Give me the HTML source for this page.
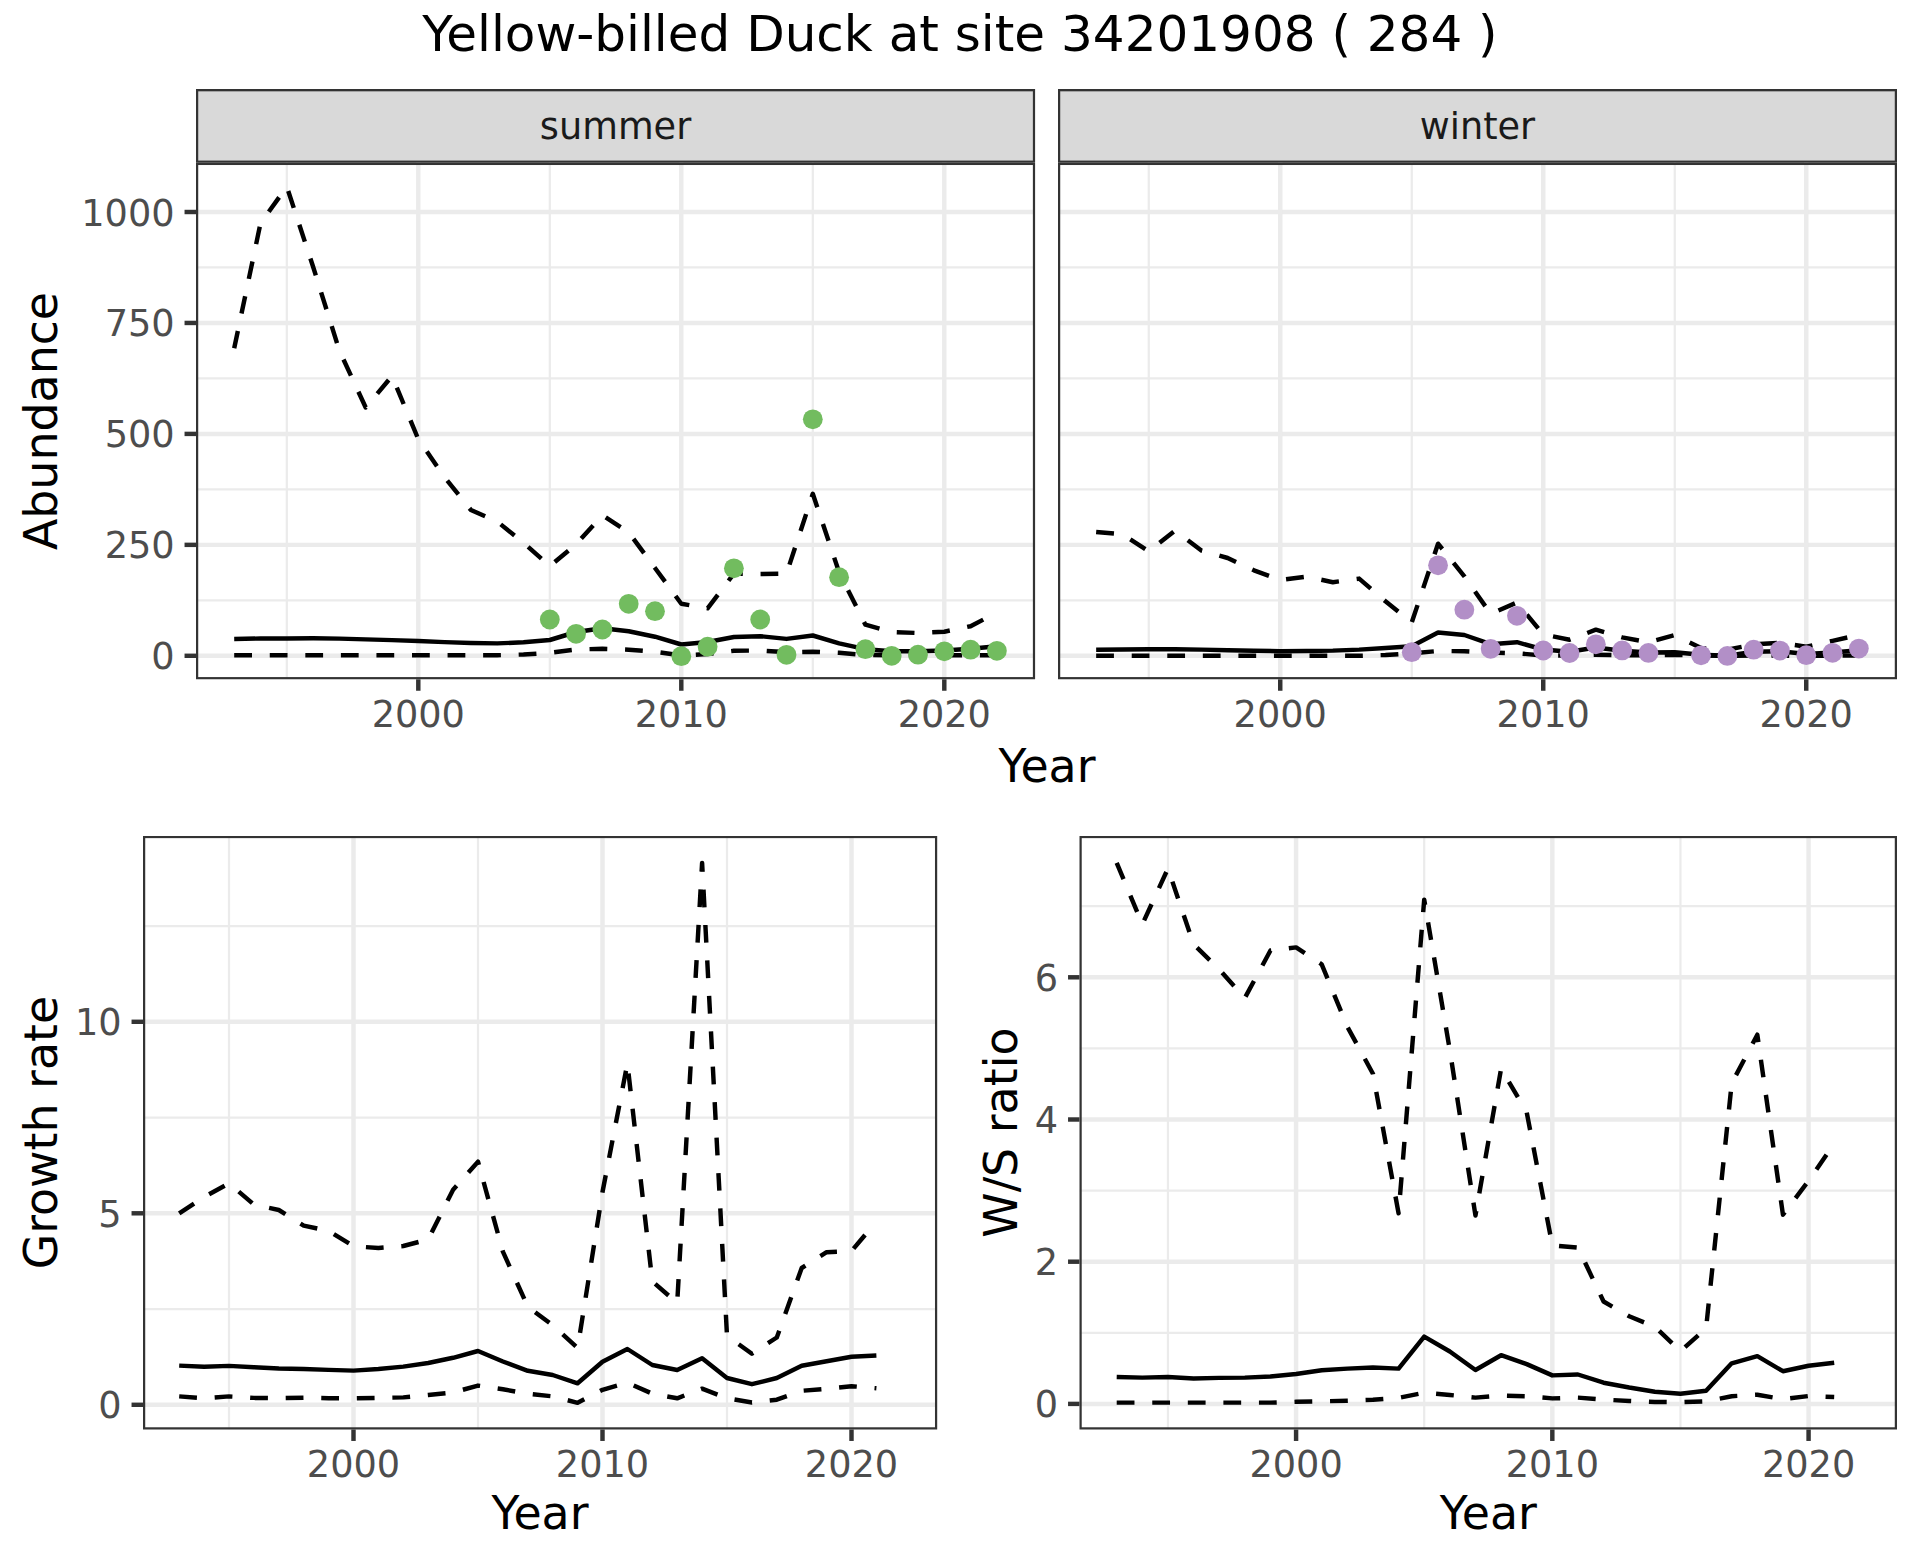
<!DOCTYPE html>
<html lang="en">
<head>
<meta charset="utf-8">
<title>Yellow-billed Duck at site 34201908 ( 284 )</title>
<style>
html,body{margin:0;padding:0;background:#fff;}
body{width:1920px;height:1560px;overflow:hidden;}
svg{display:block;}
</style>
</head>
<body>
<svg width="1920" height="1560" viewBox="0 0 1920 1560" font-family='"DejaVu Sans", "Liberation Sans", sans-serif'>
<rect width="1920" height="1560" fill="#fff"/>
<text x="960" y="50.9" text-anchor="middle" font-size="50" fill="#000">Yellow-billed Duck at site 34201908 ( 284 )</text>
<clipPath id="s1"><rect x="196" y="89.1" width="839.1" height="73.7"/></clipPath>
<rect x="196" y="89.1" width="839.1" height="73.7" fill="#D9D9D9" stroke="#333" stroke-width="4.45" clip-path="url(#s1)"/>
<text x="615.55" y="138.75" text-anchor="middle" font-size="36.67" fill="#1A1A1A">summer</text>
<clipPath id="c1"><rect x="196" y="162.8" width="839.1" height="516.5"/></clipPath>
<g clip-path="url(#c1)">
<rect x="196" y="162.8" width="839.1" height="516.5" fill="#fff"/>
<line x1="196" x2="1035.1" y1="600.32" y2="600.32" stroke="#EBEBEB" stroke-width="2.22"/>
<line x1="196" x2="1035.1" y1="489.38" y2="489.38" stroke="#EBEBEB" stroke-width="2.22"/>
<line x1="196" x2="1035.1" y1="378.42" y2="378.42" stroke="#EBEBEB" stroke-width="2.22"/>
<line x1="196" x2="1035.1" y1="267.47" y2="267.47" stroke="#EBEBEB" stroke-width="2.22"/>
<line x1="286.8" x2="286.8" y1="162.8" y2="679.3" stroke="#EBEBEB" stroke-width="2.22"/>
<line x1="549.8" x2="549.8" y1="162.8" y2="679.3" stroke="#EBEBEB" stroke-width="2.22"/>
<line x1="812.8" x2="812.8" y1="162.8" y2="679.3" stroke="#EBEBEB" stroke-width="2.22"/>
<line x1="196" x2="1035.1" y1="655.8" y2="655.8" stroke="#EBEBEB" stroke-width="4.45"/>
<line x1="196" x2="1035.1" y1="544.85" y2="544.85" stroke="#EBEBEB" stroke-width="4.45"/>
<line x1="196" x2="1035.1" y1="433.9" y2="433.9" stroke="#EBEBEB" stroke-width="4.45"/>
<line x1="196" x2="1035.1" y1="322.95" y2="322.95" stroke="#EBEBEB" stroke-width="4.45"/>
<line x1="196" x2="1035.1" y1="212" y2="212" stroke="#EBEBEB" stroke-width="4.45"/>
<line x1="418.3" x2="418.3" y1="162.8" y2="679.3" stroke="#EBEBEB" stroke-width="4.45"/>
<line x1="681.3" x2="681.3" y1="162.8" y2="679.3" stroke="#EBEBEB" stroke-width="4.45"/>
<line x1="944.3" x2="944.3" y1="162.8" y2="679.3" stroke="#EBEBEB" stroke-width="4.45"/>
<polyline points="234.2,639 260.5,638.5 286.8,638.4 313.1,638.3 339.4,638.6 365.7,639.4 392,640.1 418.3,641 444.6,642.1 470.9,643 497.2,643.4 523.5,642.3 549.8,640 576.1,632 602.4,628.3 628.7,631.3 655,636.7 681.3,644.5 707.6,642 733.9,637 760.2,636.2 786.5,638.9 812.8,635.5 839.1,643.3 865.4,649.2 891.7,651.2 918,651.2 944.3,650.5 970.6,648.7 996.9,646.3" fill="none" stroke="#000" stroke-width="4.45" stroke-linejoin="round" stroke-linecap="butt"/>
<polyline points="234.2,655.2 260.5,655.2 286.8,655.2 313.1,655.2 339.4,655.2 365.7,655.2 392,655.2 418.3,655.2 444.6,655.2 470.9,655.2 497.2,655.2 523.5,654.5 549.8,652.8 576.1,649.5 602.4,648.8 628.7,649.7 655,651.7 681.3,655.5 707.6,654 733.9,650.8 760.2,650.5 786.5,652.2 812.8,651.7 839.1,652.8 865.4,655 891.7,655.3 918,655.3 944.3,655.3 970.6,655.3 996.9,655.3" fill="none" stroke="#000" stroke-width="4.45" stroke-linejoin="round" stroke-linecap="butt" stroke-dasharray="17.78 17.78"/>
<polyline points="234.2,348.3 260.5,223.3 286.8,186.7 313.1,266.7 339.4,350.7 365.7,407.5 392,376 418.3,439.2 444.6,477.3 470.9,510 497.2,521.5 523.5,542.8 549.8,566.2 576.1,544.2 602.4,515.2 628.7,532.3 655,568 681.3,603.7 707.6,608.3 733.9,573.7 760.2,574 786.5,573.7 812.8,493.8 839.1,572.3 865.4,624.7 891.7,632 918,633 944.3,631.7 970.6,626.2 996.9,612.5" fill="none" stroke="#000" stroke-width="4.45" stroke-linejoin="round" stroke-linecap="butt" stroke-dasharray="17.74 17.74"/>
<circle cx="549.8" cy="619.5" r="9.9" fill="#72BC5F"/>
<circle cx="576.1" cy="633.8" r="9.9" fill="#72BC5F"/>
<circle cx="602.4" cy="629.5" r="9.9" fill="#72BC5F"/>
<circle cx="628.7" cy="603.8" r="9.9" fill="#72BC5F"/>
<circle cx="655" cy="611.2" r="9.9" fill="#72BC5F"/>
<circle cx="681.3" cy="656.2" r="9.9" fill="#72BC5F"/>
<circle cx="707.6" cy="646.7" r="9.9" fill="#72BC5F"/>
<circle cx="733.9" cy="568.3" r="9.9" fill="#72BC5F"/>
<circle cx="760.2" cy="619.5" r="9.9" fill="#72BC5F"/>
<circle cx="786.5" cy="654.8" r="9.9" fill="#72BC5F"/>
<circle cx="812.8" cy="419.3" r="9.9" fill="#72BC5F"/>
<circle cx="839.1" cy="577.2" r="9.9" fill="#72BC5F"/>
<circle cx="865.4" cy="649.2" r="9.9" fill="#72BC5F"/>
<circle cx="891.7" cy="655.8" r="9.9" fill="#72BC5F"/>
<circle cx="918" cy="654.7" r="9.9" fill="#72BC5F"/>
<circle cx="944.3" cy="651.3" r="9.9" fill="#72BC5F"/>
<circle cx="970.6" cy="649.7" r="9.9" fill="#72BC5F"/>
<circle cx="996.9" cy="650.8" r="9.9" fill="#72BC5F"/>
<rect x="196" y="162.8" width="839.1" height="516.5" fill="none" stroke="#333" stroke-width="4.45"/>
</g>
<line x1="418.3" x2="418.3" y1="679.3" y2="690.76" stroke="#333" stroke-width="4.45"/>
<text x="418.3" y="726.5" text-anchor="middle" font-size="36.67" fill="#4D4D4D">2000</text>
<line x1="681.3" x2="681.3" y1="679.3" y2="690.76" stroke="#333" stroke-width="4.45"/>
<text x="681.3" y="726.5" text-anchor="middle" font-size="36.67" fill="#4D4D4D">2010</text>
<line x1="944.3" x2="944.3" y1="679.3" y2="690.76" stroke="#333" stroke-width="4.45"/>
<text x="944.3" y="726.5" text-anchor="middle" font-size="36.67" fill="#4D4D4D">2020</text>
<line x1="184.54" x2="196" y1="655.8" y2="655.8" stroke="#333" stroke-width="4.45"/>
<text x="174.6" y="669.3" text-anchor="end" font-size="36.67" fill="#4D4D4D">0</text>
<line x1="184.54" x2="196" y1="544.85" y2="544.85" stroke="#333" stroke-width="4.45"/>
<text x="174.6" y="558.35" text-anchor="end" font-size="36.67" fill="#4D4D4D">250</text>
<line x1="184.54" x2="196" y1="433.9" y2="433.9" stroke="#333" stroke-width="4.45"/>
<text x="174.6" y="447.4" text-anchor="end" font-size="36.67" fill="#4D4D4D">500</text>
<line x1="184.54" x2="196" y1="322.95" y2="322.95" stroke="#333" stroke-width="4.45"/>
<text x="174.6" y="336.45" text-anchor="end" font-size="36.67" fill="#4D4D4D">750</text>
<line x1="184.54" x2="196" y1="212" y2="212" stroke="#333" stroke-width="4.45"/>
<text x="174.6" y="225.5" text-anchor="end" font-size="36.67" fill="#4D4D4D">1000</text>
<clipPath id="s2"><rect x="1058" y="89.1" width="839" height="73.7"/></clipPath>
<rect x="1058" y="89.1" width="839" height="73.7" fill="#D9D9D9" stroke="#333" stroke-width="4.45" clip-path="url(#s2)"/>
<text x="1477.5" y="138.75" text-anchor="middle" font-size="36.67" fill="#1A1A1A">winter</text>
<clipPath id="c2"><rect x="1058" y="162.8" width="839" height="516.5"/></clipPath>
<g clip-path="url(#c2)">
<rect x="1058" y="162.8" width="839" height="516.5" fill="#fff"/>
<line x1="1058" x2="1897" y1="600.32" y2="600.32" stroke="#EBEBEB" stroke-width="2.22"/>
<line x1="1058" x2="1897" y1="489.38" y2="489.38" stroke="#EBEBEB" stroke-width="2.22"/>
<line x1="1058" x2="1897" y1="378.42" y2="378.42" stroke="#EBEBEB" stroke-width="2.22"/>
<line x1="1058" x2="1897" y1="267.47" y2="267.47" stroke="#EBEBEB" stroke-width="2.22"/>
<line x1="1148.75" x2="1148.75" y1="162.8" y2="679.3" stroke="#EBEBEB" stroke-width="2.22"/>
<line x1="1411.75" x2="1411.75" y1="162.8" y2="679.3" stroke="#EBEBEB" stroke-width="2.22"/>
<line x1="1674.75" x2="1674.75" y1="162.8" y2="679.3" stroke="#EBEBEB" stroke-width="2.22"/>
<line x1="1058" x2="1897" y1="655.8" y2="655.8" stroke="#EBEBEB" stroke-width="4.45"/>
<line x1="1058" x2="1897" y1="544.85" y2="544.85" stroke="#EBEBEB" stroke-width="4.45"/>
<line x1="1058" x2="1897" y1="433.9" y2="433.9" stroke="#EBEBEB" stroke-width="4.45"/>
<line x1="1058" x2="1897" y1="322.95" y2="322.95" stroke="#EBEBEB" stroke-width="4.45"/>
<line x1="1058" x2="1897" y1="212" y2="212" stroke="#EBEBEB" stroke-width="4.45"/>
<line x1="1280.25" x2="1280.25" y1="162.8" y2="679.3" stroke="#EBEBEB" stroke-width="4.45"/>
<line x1="1543.25" x2="1543.25" y1="162.8" y2="679.3" stroke="#EBEBEB" stroke-width="4.45"/>
<line x1="1806.25" x2="1806.25" y1="162.8" y2="679.3" stroke="#EBEBEB" stroke-width="4.45"/>
<polyline points="1096.15,649.7 1122.45,649.5 1148.75,649.3 1175.05,649.2 1201.35,649.6 1227.65,650.2 1253.95,650.8 1280.25,651.2 1306.55,651 1332.85,650.6 1359.15,649.6 1385.45,648 1411.75,646.3 1438.05,632.5 1464.35,635 1490.65,644.2 1516.95,642.2 1543.25,649.5 1569.55,651.7 1595.85,647.5 1622.15,650.8 1648.45,652.5 1674.75,652.2 1701.05,654.8 1727.35,655.6 1753.65,651.7 1779.95,651.2 1806.25,654 1832.55,652.5 1858.85,650.2" fill="none" stroke="#000" stroke-width="4.45" stroke-linejoin="round" stroke-linecap="butt"/>
<polyline points="1096.15,655.8 1122.45,655.8 1148.75,655.8 1175.05,655.8 1201.35,655.8 1227.65,655.8 1253.95,655.8 1280.25,655.8 1306.55,655.8 1332.85,655.8 1359.15,655.8 1385.45,655 1411.75,653.3 1438.05,651 1464.35,651.2 1490.65,652.5 1516.95,653.3 1543.25,655.5 1569.55,655.5 1595.85,654.7 1622.15,655.3 1648.45,655.4 1674.75,654.8 1701.05,655.6 1727.35,655.9 1753.65,655.6 1779.95,655.6 1806.25,655.8 1832.55,655.7 1858.85,655.5" fill="none" stroke="#000" stroke-width="4.45" stroke-linejoin="round" stroke-linecap="butt" stroke-dasharray="17.78 17.78"/>
<polyline points="1096.15,532 1122.45,534.3 1148.75,551.3 1175.05,530.5 1201.35,550.5 1227.65,558 1253.95,570.3 1280.25,580 1306.55,576.7 1332.85,582.2 1359.15,578.6 1385.45,601.3 1411.75,622.5 1438.05,543.7 1464.35,576.3 1490.65,613.8 1516.95,602.5 1543.25,634.5 1569.55,639.7 1595.85,629.7 1622.15,637.4 1648.45,642.2 1674.75,635 1701.05,648.1 1727.35,649.7 1753.65,644.4 1779.95,642.8 1806.25,646.7 1832.55,640.9 1858.85,634.8" fill="none" stroke="#000" stroke-width="4.45" stroke-linejoin="round" stroke-linecap="butt" stroke-dasharray="17.88 17.88"/>
<circle cx="1411.75" cy="652.2" r="9.9" fill="#B28FC7"/>
<circle cx="1438.05" cy="565.3" r="9.9" fill="#B28FC7"/>
<circle cx="1464.35" cy="609.7" r="9.9" fill="#B28FC7"/>
<circle cx="1490.65" cy="648.8" r="9.9" fill="#B28FC7"/>
<circle cx="1516.95" cy="615.8" r="9.9" fill="#B28FC7"/>
<circle cx="1543.25" cy="650.5" r="9.9" fill="#B28FC7"/>
<circle cx="1569.55" cy="653" r="9.9" fill="#B28FC7"/>
<circle cx="1595.85" cy="644.3" r="9.9" fill="#B28FC7"/>
<circle cx="1622.15" cy="650.4" r="9.9" fill="#B28FC7"/>
<circle cx="1648.45" cy="652.9" r="9.9" fill="#B28FC7"/>
<circle cx="1701.05" cy="655.3" r="9.9" fill="#B28FC7"/>
<circle cx="1727.35" cy="655.9" r="9.9" fill="#B28FC7"/>
<circle cx="1753.65" cy="649.7" r="9.9" fill="#B28FC7"/>
<circle cx="1779.95" cy="650.6" r="9.9" fill="#B28FC7"/>
<circle cx="1806.25" cy="655.2" r="9.9" fill="#B28FC7"/>
<circle cx="1832.55" cy="652.8" r="9.9" fill="#B28FC7"/>
<circle cx="1858.85" cy="648.6" r="9.9" fill="#B28FC7"/>
<rect x="1058" y="162.8" width="839" height="516.5" fill="none" stroke="#333" stroke-width="4.45"/>
</g>
<line x1="1280.25" x2="1280.25" y1="679.3" y2="690.76" stroke="#333" stroke-width="4.45"/>
<text x="1280.25" y="726.5" text-anchor="middle" font-size="36.67" fill="#4D4D4D">2000</text>
<line x1="1543.25" x2="1543.25" y1="679.3" y2="690.76" stroke="#333" stroke-width="4.45"/>
<text x="1543.25" y="726.5" text-anchor="middle" font-size="36.67" fill="#4D4D4D">2010</text>
<line x1="1806.25" x2="1806.25" y1="679.3" y2="690.76" stroke="#333" stroke-width="4.45"/>
<text x="1806.25" y="726.5" text-anchor="middle" font-size="36.67" fill="#4D4D4D">2020</text>
<text x="1047" y="781.5" text-anchor="middle" font-size="45.83" fill="#000">Year</text>
<text transform="translate(56.5,421) rotate(-90)" text-anchor="middle" font-size="45.83" fill="#000">Abundance</text>
<clipPath id="c3"><rect x="143" y="835.9" width="794.2" height="593.6"/></clipPath>
<g clip-path="url(#c3)">
<rect x="143" y="835.9" width="794.2" height="593.6" fill="#fff"/>
<line x1="143" x2="937.2" y1="1309.05" y2="1309.05" stroke="#EBEBEB" stroke-width="2.22"/>
<line x1="143" x2="937.2" y1="1117.55" y2="1117.55" stroke="#EBEBEB" stroke-width="2.22"/>
<line x1="143" x2="937.2" y1="926.05" y2="926.05" stroke="#EBEBEB" stroke-width="2.22"/>
<line x1="229" x2="229" y1="835.9" y2="1429.5" stroke="#EBEBEB" stroke-width="2.22"/>
<line x1="478" x2="478" y1="835.9" y2="1429.5" stroke="#EBEBEB" stroke-width="2.22"/>
<line x1="727" x2="727" y1="835.9" y2="1429.5" stroke="#EBEBEB" stroke-width="2.22"/>
<line x1="143" x2="937.2" y1="1404.8" y2="1404.8" stroke="#EBEBEB" stroke-width="4.45"/>
<line x1="143" x2="937.2" y1="1213.3" y2="1213.3" stroke="#EBEBEB" stroke-width="4.45"/>
<line x1="143" x2="937.2" y1="1021.8" y2="1021.8" stroke="#EBEBEB" stroke-width="4.45"/>
<line x1="353.5" x2="353.5" y1="835.9" y2="1429.5" stroke="#EBEBEB" stroke-width="4.45"/>
<line x1="602.5" x2="602.5" y1="835.9" y2="1429.5" stroke="#EBEBEB" stroke-width="4.45"/>
<line x1="851.5" x2="851.5" y1="835.9" y2="1429.5" stroke="#EBEBEB" stroke-width="4.45"/>
<polyline points="179.2,1365.6 204.1,1366.7 229,1365.9 253.9,1367.2 278.8,1368.5 303.7,1369 328.6,1369.9 353.5,1370.6 378.4,1369 403.3,1366.6 428.2,1363 453.1,1357.8 478,1351 502.9,1361.5 527.8,1370.8 552.7,1375 577.6,1383.3 602.5,1361.7 627.4,1349 652.3,1365 677.2,1370 702.1,1358.3 727,1378 751.9,1384.2 776.8,1378 801.7,1365.8 826.6,1361.3 851.5,1356.7 876.4,1355.5" fill="none" stroke="#000" stroke-width="4.45" stroke-linejoin="round" stroke-linecap="butt"/>
<polyline points="179.2,1396.4 204.1,1398.2 229,1396.4 253.9,1397.9 278.8,1398.2 303.7,1397.7 328.6,1398.2 353.5,1398.4 378.4,1397.9 403.3,1397.4 428.2,1395 453.1,1392.4 478,1385.6 502.9,1389.3 527.8,1393.7 552.7,1396.4 577.6,1402.8 602.5,1389.8 627.4,1382.6 652.3,1393.7 677.2,1398.3 702.1,1388.7 727,1398.3 751.9,1402.5 776.8,1399.7 801.7,1390.8 826.6,1388.8 851.5,1386.2 876.4,1388.3" fill="none" stroke="#000" stroke-width="4.45" stroke-linejoin="round" stroke-linecap="butt" stroke-dasharray="17.78 17.78"/>
<polyline points="179.2,1213.3 204.1,1197 229,1183.3 253.9,1204.5 278.8,1210 303.7,1225.6 328.6,1231 353.5,1246.2 378.4,1248 403.3,1246 428.2,1239.5 453.1,1189.7 478,1161.7 502.9,1251.7 527.8,1306.7 552.7,1325.3 577.6,1348 602.5,1192 627.4,1063.4 652.3,1281.3 677.2,1303 702.1,862.9 727,1335.8 751.9,1353.7 776.8,1337.5 801.7,1268 826.6,1252.2 851.5,1251 876.4,1221.7" fill="none" stroke="#000" stroke-width="4.45" stroke-linejoin="round" stroke-linecap="butt" stroke-dasharray="17.74 17.74"/>
<rect x="143" y="835.9" width="794.2" height="593.6" fill="none" stroke="#333" stroke-width="4.45"/>
</g>
<line x1="353.5" x2="353.5" y1="1429.5" y2="1440.96" stroke="#333" stroke-width="4.45"/>
<text x="353.5" y="1476.7" text-anchor="middle" font-size="36.67" fill="#4D4D4D">2000</text>
<line x1="602.5" x2="602.5" y1="1429.5" y2="1440.96" stroke="#333" stroke-width="4.45"/>
<text x="602.5" y="1476.7" text-anchor="middle" font-size="36.67" fill="#4D4D4D">2010</text>
<line x1="851.5" x2="851.5" y1="1429.5" y2="1440.96" stroke="#333" stroke-width="4.45"/>
<text x="851.5" y="1476.7" text-anchor="middle" font-size="36.67" fill="#4D4D4D">2020</text>
<line x1="131.54" x2="143" y1="1404.8" y2="1404.8" stroke="#333" stroke-width="4.45"/>
<text x="121.6" y="1418.3" text-anchor="end" font-size="36.67" fill="#4D4D4D">0</text>
<line x1="131.54" x2="143" y1="1213.3" y2="1213.3" stroke="#333" stroke-width="4.45"/>
<text x="121.6" y="1226.8" text-anchor="end" font-size="36.67" fill="#4D4D4D">5</text>
<line x1="131.54" x2="143" y1="1021.8" y2="1021.8" stroke="#333" stroke-width="4.45"/>
<text x="121.6" y="1035.3" text-anchor="end" font-size="36.67" fill="#4D4D4D">10</text>
<text x="540" y="1528.5" text-anchor="middle" font-size="45.83" fill="#000">Year</text>
<text transform="translate(56.5,1132.6) rotate(-90)" text-anchor="middle" font-size="45.83" fill="#000">Growth rate</text>
<clipPath id="c4"><rect x="1079.5" y="835.9" width="817.5" height="593.6"/></clipPath>
<g clip-path="url(#c4)">
<rect x="1079.5" y="835.9" width="817.5" height="593.6" fill="#fff"/>
<line x1="1079.5" x2="1897" y1="1332.8" y2="1332.8" stroke="#EBEBEB" stroke-width="2.22"/>
<line x1="1079.5" x2="1897" y1="1190.6" y2="1190.6" stroke="#EBEBEB" stroke-width="2.22"/>
<line x1="1079.5" x2="1897" y1="1048.4" y2="1048.4" stroke="#EBEBEB" stroke-width="2.22"/>
<line x1="1079.5" x2="1897" y1="906.2" y2="906.2" stroke="#EBEBEB" stroke-width="2.22"/>
<line x1="1167.95" x2="1167.95" y1="835.9" y2="1429.5" stroke="#EBEBEB" stroke-width="2.22"/>
<line x1="1424.2" x2="1424.2" y1="835.9" y2="1429.5" stroke="#EBEBEB" stroke-width="2.22"/>
<line x1="1680.45" x2="1680.45" y1="835.9" y2="1429.5" stroke="#EBEBEB" stroke-width="2.22"/>
<line x1="1079.5" x2="1897" y1="1403.9" y2="1403.9" stroke="#EBEBEB" stroke-width="4.45"/>
<line x1="1079.5" x2="1897" y1="1261.7" y2="1261.7" stroke="#EBEBEB" stroke-width="4.45"/>
<line x1="1079.5" x2="1897" y1="1119.5" y2="1119.5" stroke="#EBEBEB" stroke-width="4.45"/>
<line x1="1079.5" x2="1897" y1="977.3" y2="977.3" stroke="#EBEBEB" stroke-width="4.45"/>
<line x1="1296.08" x2="1296.08" y1="835.9" y2="1429.5" stroke="#EBEBEB" stroke-width="4.45"/>
<line x1="1552.33" x2="1552.33" y1="835.9" y2="1429.5" stroke="#EBEBEB" stroke-width="4.45"/>
<line x1="1808.58" x2="1808.58" y1="835.9" y2="1429.5" stroke="#EBEBEB" stroke-width="4.45"/>
<polyline points="1116.7,1377 1142.33,1377.6 1167.95,1377 1193.58,1378.5 1219.2,1377.9 1244.83,1377.6 1270.45,1376.5 1296.08,1374 1321.7,1370.3 1347.33,1368.6 1372.95,1367.5 1398.58,1368.6 1424.2,1336.6 1449.83,1351.5 1475.45,1370 1501.08,1355.2 1526.7,1364.1 1552.33,1375.4 1577.95,1374.5 1603.58,1382.7 1629.2,1387.5 1654.83,1391.7 1680.45,1393.8 1706.08,1390.8 1731.7,1363.3 1757.33,1356.2 1782.95,1371.2 1808.58,1365.8 1834.2,1362.8" fill="none" stroke="#000" stroke-width="4.45" stroke-linejoin="round" stroke-linecap="butt"/>
<polyline points="1116.7,1402.6 1142.33,1402.6 1167.95,1402.6 1193.58,1402.6 1219.2,1402.6 1244.83,1402.6 1270.45,1402.6 1296.08,1401.8 1321.7,1401.3 1347.33,1400.7 1372.95,1399.8 1398.58,1397.9 1424.2,1392.8 1449.83,1395 1475.45,1397.6 1501.08,1395.6 1526.7,1396.2 1552.33,1398.4 1577.95,1397.6 1603.58,1399.6 1629.2,1401 1654.83,1402 1680.45,1402.2 1706.08,1401.3 1731.7,1396.2 1757.33,1394.7 1782.95,1399.2 1808.58,1396 1834.2,1397" fill="none" stroke="#000" stroke-width="4.45" stroke-linejoin="round" stroke-linecap="butt" stroke-dasharray="17.78 17.78"/>
<polyline points="1116.7,862.8 1142.33,924.3 1167.95,868.5 1193.58,944.3 1219.2,969.3 1244.83,998 1270.45,950.5 1296.08,947.4 1321.7,964.3 1347.33,1026.7 1372.95,1073.7 1398.58,1213.3 1424.2,899.7 1449.83,1050.2 1475.45,1215.5 1501.08,1068.7 1526.7,1112.2 1552.33,1245.3 1577.95,1247.7 1603.58,1301.5 1629.2,1316.3 1654.83,1326.7 1680.45,1351.2 1706.08,1328.3 1731.7,1083.3 1757.33,1034.7 1782.95,1214.7 1808.58,1180.8 1834.2,1143.7" fill="none" stroke="#000" stroke-width="4.45" stroke-linejoin="round" stroke-linecap="butt" stroke-dasharray="17.74 17.74"/>
<rect x="1079.5" y="835.9" width="817.5" height="593.6" fill="none" stroke="#333" stroke-width="4.45"/>
</g>
<line x1="1296.08" x2="1296.08" y1="1429.5" y2="1440.96" stroke="#333" stroke-width="4.45"/>
<text x="1296.08" y="1476.7" text-anchor="middle" font-size="36.67" fill="#4D4D4D">2000</text>
<line x1="1552.33" x2="1552.33" y1="1429.5" y2="1440.96" stroke="#333" stroke-width="4.45"/>
<text x="1552.33" y="1476.7" text-anchor="middle" font-size="36.67" fill="#4D4D4D">2010</text>
<line x1="1808.58" x2="1808.58" y1="1429.5" y2="1440.96" stroke="#333" stroke-width="4.45"/>
<text x="1808.58" y="1476.7" text-anchor="middle" font-size="36.67" fill="#4D4D4D">2020</text>
<line x1="1068.04" x2="1079.5" y1="1403.9" y2="1403.9" stroke="#333" stroke-width="4.45"/>
<text x="1058.1" y="1417.4" text-anchor="end" font-size="36.67" fill="#4D4D4D">0</text>
<line x1="1068.04" x2="1079.5" y1="1261.7" y2="1261.7" stroke="#333" stroke-width="4.45"/>
<text x="1058.1" y="1275.2" text-anchor="end" font-size="36.67" fill="#4D4D4D">2</text>
<line x1="1068.04" x2="1079.5" y1="1119.5" y2="1119.5" stroke="#333" stroke-width="4.45"/>
<text x="1058.1" y="1133" text-anchor="end" font-size="36.67" fill="#4D4D4D">4</text>
<line x1="1068.04" x2="1079.5" y1="977.3" y2="977.3" stroke="#333" stroke-width="4.45"/>
<text x="1058.1" y="990.8" text-anchor="end" font-size="36.67" fill="#4D4D4D">6</text>
<text x="1488.3" y="1528.5" text-anchor="middle" font-size="45.83" fill="#000">Year</text>
<text transform="translate(1016.5,1132.6) rotate(-90)" text-anchor="middle" font-size="45.83" fill="#000">W/S ratio</text>
</svg>
</body>
</html>
